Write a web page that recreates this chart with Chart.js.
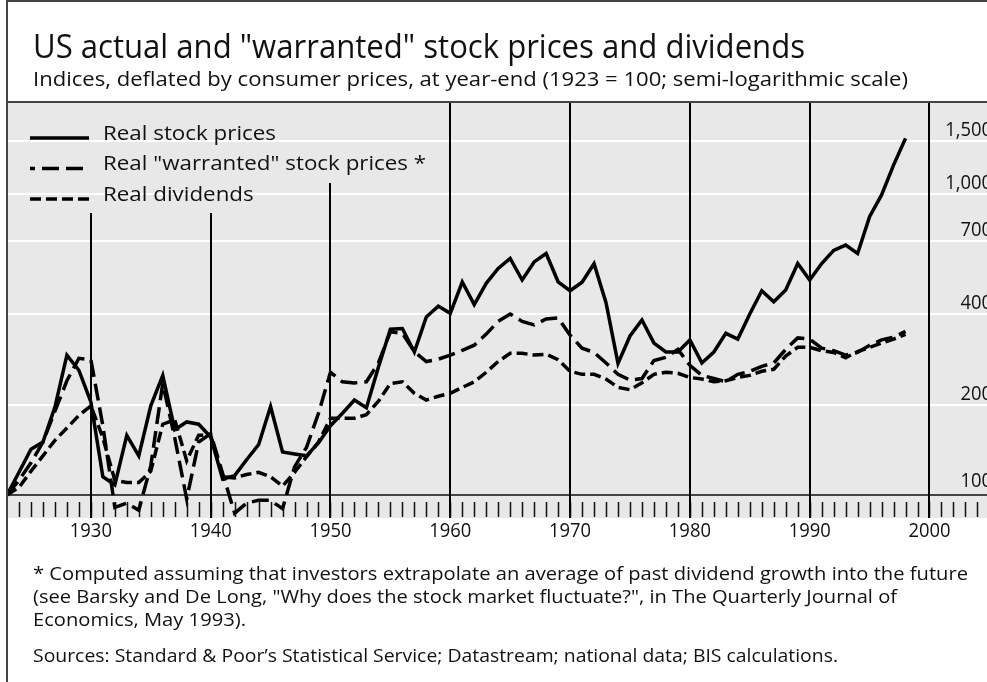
<!DOCTYPE html>
<html>
<head>
<meta charset="utf-8">
<script src="https://cdn.jsdelivr.net/npm/chart.js@4.4.1/dist/chart.umd.min.js"></script>
<style>
  html, body { margin: 0; padding: 0; background: #fff; }
  #wrap { position: relative; width: 987px; height: 682px; overflow: hidden; font-family: "Open Sans", sans-serif; color: #111; }
  #graph { position: absolute; left: 0; top: 0; }
  .txt { position: absolute; left: 33px; white-space: nowrap; line-height: 1; transform-origin: 0 0; }
</style>
</head>
<body>
<div id="wrap">
  <canvas id="graph" width="987" height="682"></canvas>
  <div class="txt" id="title">US actual and "warranted" stock prices and dividends</div>
  <div class="txt" id="subtitle">Indices, deflated by consumer prices, at year-end (1923 = 100; semi-logarithmic scale)</div>
  <div class="txt" id="foot1">* Computed assuming that investors extrapolate an average of past dividend growth into the future</div>
  <div class="txt" id="foot2">(see Barsky and De Long, "Why does the stock market fluctuate?", in The Quarterly Journal of</div>
  <div class="txt" id="foot3">Economics, May 1993).</div>
  <div class="txt" id="sources">Sources: Standard &amp; Poor’s Statistical Service; Datastream; national data; BIS calculations.</div>
</div>
<script>
// year-end values, 1923 = 100
const years = [];
for (let y = 1923; y <= 1998; y++) years.push(y);

const stockPrices = [
  100, 119, 142, 150, 196, 292, 260, 204, 115, 108,   // 1923-1932
  158, 135, 198, 250, 165, 175, 172, 156, 113, 116,   // 1933-1942
  131, 147, 197, 139, 137, 135, 149, 170, 187, 207,   // 1943-1952
  195, 266, 356, 358, 299, 391, 425, 402, 511, 430,   // 1953-1962
  506, 567, 612, 519, 596, 636, 512, 478, 510, 588,   // 1963-1972
  436, 274, 338, 382, 320, 299, 299, 328, 275, 299,   // 1973-1982
  345, 330, 400, 478, 439, 481, 589, 519, 589, 651,   // 1983-1992
  678, 636, 843, 996, 1251, 1536                      // 1993-1998
];

const warrantedPrices = [
  100, 112, 128, 150, 190, 240, 285, 282, 170, 91,
  94, 89, 125, 235, 155, 97, 150, 160, 118, 87,
  94, 96, 96, 90, 124, 144, 187, 256, 238, 236,
  238, 275, 349, 345, 300, 278, 283, 292, 303, 315,
  343, 378, 400, 378, 368, 385, 388, 340, 308, 298,
  275, 252, 241, 244, 280, 287, 305, 270, 250, 244,
  238, 252, 258, 268, 275, 305, 333, 330, 308, 302,
  292, 298, 315, 328, 335, 350
];

const dividends = [
  100, 106, 120, 135, 152, 167, 184, 198, 155, 112,
  110, 110, 120, 172, 178, 130, 158, 158, 115, 114,
  117, 119, 115, 107, 119, 134, 150, 180, 180, 180,
  185, 205, 235, 238, 218, 207, 213, 218, 228, 238,
  256, 278, 296, 296, 292, 294, 282, 258, 252, 252,
  243, 228, 224, 236, 252, 256, 254, 246, 243, 238,
  240, 246, 250, 258, 262, 290, 310, 310, 302, 298,
  286, 300, 310, 320, 330, 342
];

const decades = [1930, 1940, 1950, 1960, 1970, 1980, 1990, 2000];
const gridValues = [200, 400, 700, 1000, 1500];
const axisLabels = [100, 200, 400, 700, 1000, 1500];

const FONT = '"Open Sans"';

function pts(arr) {
  return years.map((yr, i) => ({ x: yr, y: arr[i] }));
}

const meas = document.createElement('canvas').getContext('2d');
function textWidth(str, size) {
  meas.font = size + 'px ' + FONT;
  return meas.measureText(str).width;
}

// html text line: size from glyph height, squeezed to the reference width (or a given scale), baseline on y
function place(id, baseline, size, width, scale) {
  const el = document.getElementById(id);
  meas.font = size + 'px ' + FONT;
  const m = meas.measureText(el.textContent);
  const asc = m.fontBoundingBoxAscent, desc = m.fontBoundingBoxDescent;
  el.style.fontSize = size + 'px';
  el.style.top = (baseline - (size - asc - desc) / 2 - asc) + 'px';
  const sx = scale || (width ? width / m.width : 1);
  el.style.transform = 'scaleX(' + sx + ')';
  return sx;
}

function squeezedText(ctx, str, px, py, sx) {
  ctx.save();
  ctx.translate(px, py);
  ctx.scale(sx, 1);
  ctx.fillText(str, 0, 0);
  ctx.restore();
}

const backdrop = {
  id: 'backdrop',
  beforeDraw(chart) {
    const { ctx, chartArea: a, scales: { x, y } } = chart;
    ctx.save();
    ctx.fillStyle = '#fff';
    ctx.fillRect(0, 0, chart.width, chart.height);
    ctx.fillStyle = '#e8e8e8';
    ctx.fillRect(a.left, a.top, a.right - a.left, a.bottom - a.top);

    const hline = (py, color, w) => {
      ctx.strokeStyle = color; ctx.lineWidth = w;
      ctx.beginPath(); ctx.moveTo(a.left, py); ctx.lineTo(a.right, py); ctx.stroke();
    };
    gridValues.forEach(v => hline(Math.round(y.getPixelForValue(v)), '#fff', 2));
    const base = Math.round(y.getPixelForValue(100));
    hline(base, '#444', 2);

    // small year ticks in the band under the 100 line
    ctx.strokeStyle = '#111'; ctx.lineWidth = 1.5;
    for (let yr = 1924; yr <= 2004; yr++) {
      const px = Math.round(x.getPixelForValue(yr)) + 0.5;
      ctx.beginPath(); ctx.moveTo(px, base + 7); ctx.lineTo(px, a.bottom - 1); ctx.stroke();
    }

    // decade lines, the early ones stop under the legend
    ctx.strokeStyle = '#000'; ctx.lineWidth = 2;
    decades.forEach(d => {
      const px = Math.round(x.getPixelForValue(d));
      const top = d < 1950 ? 213 : d === 1950 ? 183 : a.top;
      ctx.beginPath(); ctx.moveTo(px, top); ctx.lineTo(px, a.bottom); ctx.stroke();
    });
    ctx.restore();
  },
  afterDatasetsDraw(chart) {
    const { ctx, chartArea: a, scales: { x, y } } = chart;
    ctx.save();
    ctx.fillStyle = '#111';
    ctx.font = '20px ' + FONT;

    // y labels sit just above their lines, right side
    ctx.textAlign = 'right';
    ctx.textBaseline = 'alphabetic';
    axisLabels.forEach(v => {
      const py = y.getPixelForValue(v);
      squeezedText(ctx, v.toLocaleString('en-US'), a.right + 5, py - (v === 100 ? 8 : 5), 0.92);
    });

    // x labels
    ctx.textAlign = 'center';
    ctx.textBaseline = 'middle';
    decades.forEach(d => squeezedText(ctx, String(d), x.getPixelForValue(d), 531, 0.92));

    // legend
    ctx.textAlign = 'left';
    ctx.textBaseline = 'alphabetic';
    ctx.font = '20px ' + FONT;
    const lsx = 173 / textWidth('Real stock prices', 20);
    chart.data.datasets.forEach((ds, i) => {
      const ly = 138 + i * 30.5;
      ctx.strokeStyle = '#000'; ctx.lineWidth = ds.borderWidth;
      ctx.setLineDash(ds.borderDash || []);
      ctx.lineDashOffset = i === 1 ? 12 : 0;
      ctx.beginPath(); ctx.moveTo(30, ly); ctx.lineTo(89, ly); ctx.stroke();
      ctx.setLineDash([]);
      squeezedText(ctx, ds.label, 103, ly + 1.5, lsx);
    });

    // frame
    ctx.strokeStyle = '#444'; ctx.lineWidth = 2;
    ctx.beginPath();
    ctx.moveTo(7, chart.height); ctx.lineTo(7, 1); ctx.lineTo(chart.width, 1);
    ctx.moveTo(7, a.top); ctx.lineTo(chart.width, a.top);
    ctx.stroke();
    ctx.restore();
  }
};

const lineStyle = { borderColor: '#000', borderWidth: 3.5, pointRadius: 0, tension: 0, fill: false };

new Chart(document.getElementById('graph'), {
  type: 'line',
  data: {
    datasets: [
      Object.assign({ label: 'Real stock prices', data: pts(stockPrices), borderDash: [] }, lineStyle),
      Object.assign({ label: 'Real "warranted" stock prices *', data: pts(warrantedPrices), borderDash: [17, 7] }, lineStyle),
      Object.assign({ label: 'Real dividends', data: pts(dividends), borderDash: [11, 5] }, lineStyle)
    ]
  },
  options: {
    responsive: false,
    animation: false,
    devicePixelRatio: 1,
    layout: { padding: { left: 7, top: 102, right: 0, bottom: 164 } },
    plugins: { legend: { display: false }, tooltip: { enabled: false } },
    scales: {
      x: { type: 'linear', min: 1923, max: 2004.8, display: false },
      y: { type: 'logarithmic', min: 83.85, max: 2029, display: false }
    }
  },
  plugins: [backdrop]
});

place('title', 58, 32, 772);
place('subtitle', 86, 20, 875);
const fsx = place('foot1', 580, 19, 935);
place('foot2', 603, 19, 864);
place('foot3', 626, 19, 0, fsx);
place('sources', 662, 19, 805);
</script>
</body>
</html>
